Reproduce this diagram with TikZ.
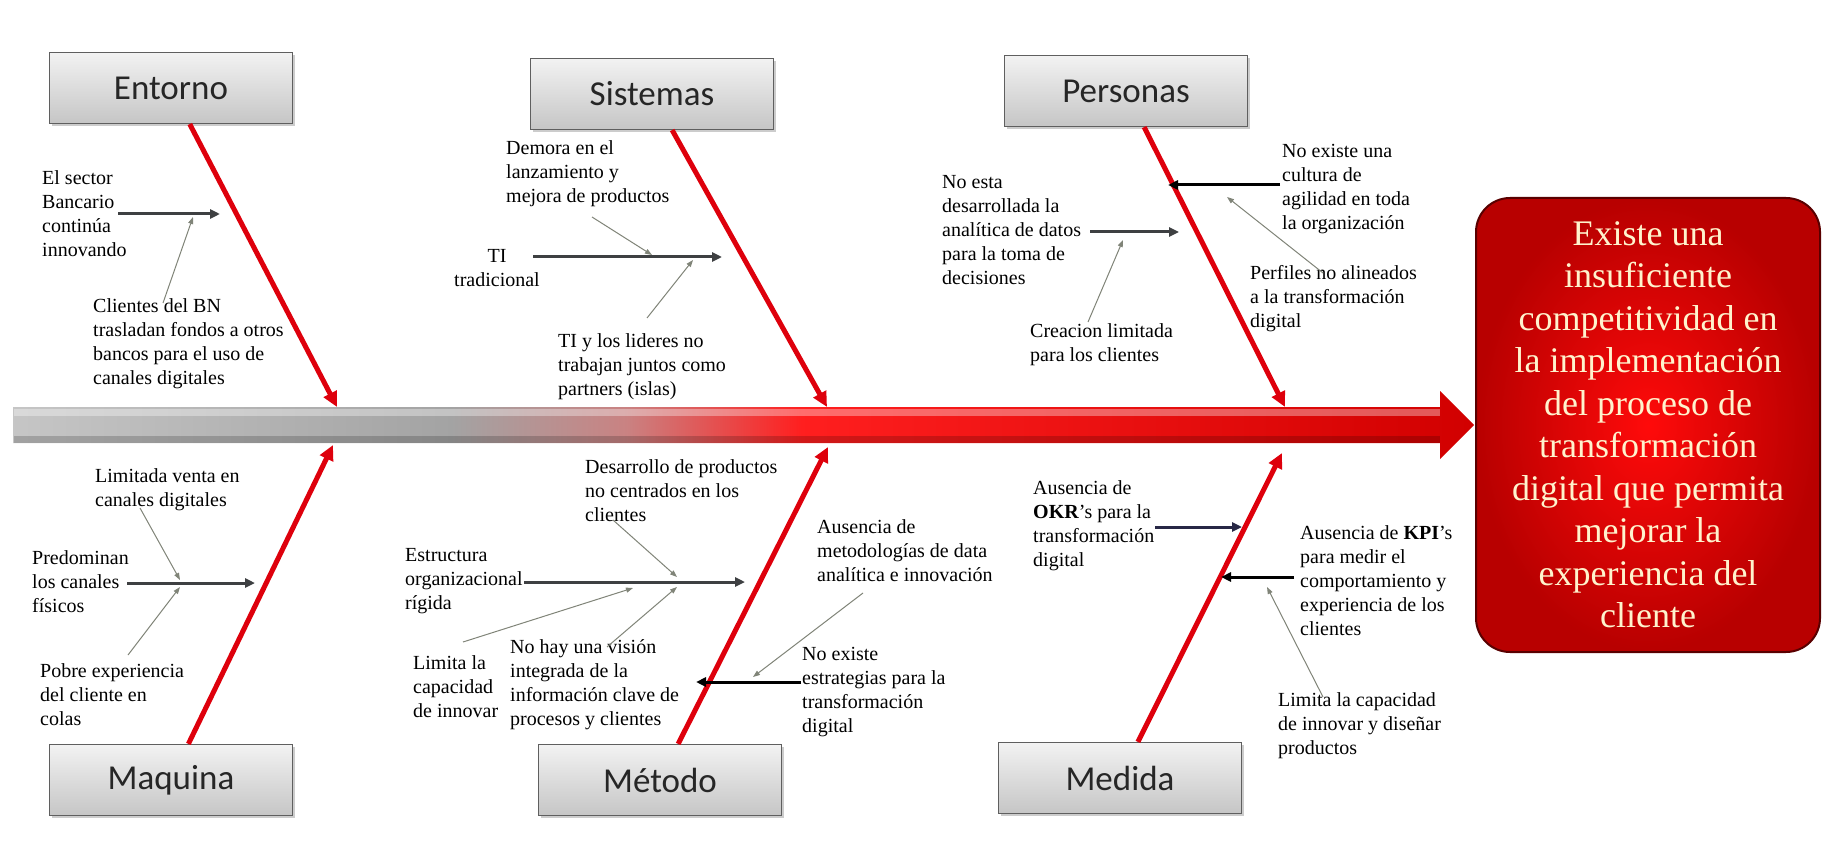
\documentclass[tikz,border=0pt]{standalone}
\usepackage{fontspec}
\setmainfont{Liberation Serif}
\newfontfamily\boxfont{Carlito}
\usepackage{xcolor}
\usetikzlibrary{arrows.meta, positioning, calc, shadows}

\definecolor{bonered}{RGB}{222,0,12}
\definecolor{armgray}{RGB}{62,64,66}
\definecolor{armnavy}{RGB}{40,40,70}
\definecolor{pingray}{RGB}{128,132,120}
\definecolor{catedge}{RGB}{95,95,95}
\definecolor{efftext}{RGB}{255,243,205}

\pgfdeclarehorizontalshading{spinegrad}{100bp}{color(0bp)=(gray!45); color(25bp)=(gray!45); color(40bp)=(gray!72); color(46bp)=(red!40!gray!70); color(52bp)=(red!88); color(75bp)=(red!82!black); color(100bp)=(red!82!black)}

\begin{document}
\begin{tikzpicture}[
  x=1pt, y=-1pt,
  category/.style={
    rectangle,
    draw=catedge,
    line width=1.2pt,
    top color=gray!10,
    bottom color=gray!45,
    minimum width=243pt,
    minimum height=71pt,
    text=black!85,
    font=\boxfont\fontsize{35}{40}\selectfont,
    drop shadow={shadow xshift=2.5pt, shadow yshift=-2.5pt, opacity=0.4},
  },
  cause/.style={
    align=left,
    inner sep=0pt,
    anchor=west,
    font=\fontsize{20}{24}\selectfont,
  },
  effect/.style={
    rectangle,
    rounded corners=34pt,
    draw=red!35!black,
    line width=2pt,
    inner color=red!96,
    outer color=red!72!black,
    minimum width=344pt,
    minimum height=454pt,
    align=center,
    text=efftext,
    font=\fontsize{36}{42.5}\selectfont,
  },
  bone/.style={draw=bonered, line width=5pt, -{Triangle[length=15pt, width=14pt]}},
  arm/.style={draw=armgray, line width=3pt, -{Triangle[length=10pt, width=9pt]}},
  pin/.style={draw=pingray, line width=1pt, -{Triangle[length=7pt, width=5pt]}}
]

% ===== CANVAS =====
\fill[white] (0,0) rectangle (1822,850);
\useasboundingbox (0,0) rectangle (1822,850);

% ===== SPINE AND EFFECT =====
\shade[shading=spinegrad] (13,407) -- (1440,407) -- (1440,391) -- (1474,425)
  -- (1440,459) -- (1440,443) -- (13,443) -- cycle;
\fill[white, opacity=0.35] (14,409) rectangle (1440,416);
\fill[black, opacity=0.18] (14,436) rectangle (1440,443);

\node[effect] (eff) at (1648,425) {Existe una\\insuficiente\\competitividad en\\la implementación\\del proceso de\\transformación\\digital que permita\\mejorar la\\experiencia del\\cliente};

% ===== CATEGORY BOXES =====
\node[category] (ent) at (171,88) {Entorno};
\node[category] (sis) at (652,94) {Sistemas};
\node[category] (per) at (1126,91) {Personas};
\node[category] (maq) at (171,780) {Maquina};
\node[category] (met) at (660,780) {Método};
\node[category] (med) at (1120,778) {Medida};

% Points where the bones meet the spine
\coordinate (tEnt) at (337,407);
\coordinate (tSis) at (827,407);
\coordinate (tPer) at (1285,407);
\coordinate (tMaq) at (333,445);
\coordinate (tMet) at (828,447);
\coordinate (tMed) at (1282,453);

% ===== BONES =====
\draw[bone] (ent) -- (tEnt);
\draw[bone] (sis) -- (tSis);
\draw[bone] (per) -- (tPer);
\draw[bone] (maq) -- (tMaq);
\draw[bone] (met) -- (tMet);
\draw[bone] (med) -- (tMed);

% ===== ENTORNO =====
\node[cause] (e1) at (42,214) {El sector\\Bancario\\continúa\\innovando};
\node[cause] (e2) at (93,344) {Clientes del BN\\trasladan fondos a otros\\bancos para el uso de\\canales digitales};
\coordinate (e1a) at (118,214);
\coordinate (e1b) at (220,214);
\coordinate (e2a) at (163,303);
\coordinate (e2b) at (193,217);
\draw[arm] (e1a) -- (e1b);
\draw[pin] (e2a) -- (e2b);

% ===== SISTEMAS =====
\node[cause] (s1) at (506,174) {Demora en el\\lanzamiento y\\mejora de productos};
\node[cause, align=center, anchor=center] (s2) at (497,268) {TI\\tradicional};
\node[cause] (s3) at (558,367) {TI y los lideres no\\trabajan juntos como\\partners (islas)};
\coordinate (s2a) at (533,257);
\coordinate (s2b) at (722,257);
\coordinate (s1a) at (592,217);
\coordinate (s1b) at (652,255);
\coordinate (s3a) at (647,318);
\coordinate (s3b) at (693,260);
\draw[arm] (s2a) -- (s2b);
\draw[pin] (s1a) -- (s1b);
\draw[pin] (s3a) -- (s3b);

% ===== PERSONAS =====
\node[cause] (p1) at (942,230) {No esta\\desarrollada la\\analítica de datos\\para la toma de\\decisiones};
\node[cause] (p2) at (1030,345) {Creacion limitada\\para los clientes};
\node[cause] (p3) at (1282,189) {No existe una\\cultura de\\agilidad en toda\\la organización};
\node[cause] (p4) at (1250,299) {Perfiles no alineados\\a la transformación\\digital};
\coordinate (p1a) at (1090,232);
\coordinate (p1b) at (1179,232);
\coordinate (p3a) at (1280,185);
\coordinate (p3b) at (1168,185);
\coordinate (p2a) at (1088,322);
\coordinate (p2b) at (1123,240);
\coordinate (p4a) at (1323,273);
\coordinate (p4b) at (1227,197);
\draw[arm] (p1a) -- (p1b);
\draw[arm, draw=black] (p3a) -- (p3b);
\draw[pin] (p2a) -- (p2b);
\draw[pin] (p4a) -- (p4b);

% ===== MAQUINA =====
\node[cause] (m1) at (95,490) {Limitada venta en\\canales digitales};
\node[cause] (m2) at (32,582) {Predominan\\los canales\\físicos};
\node[cause] (m3) at (40,695) {Pobre experiencia\\del cliente en\\colas};
\coordinate (m2a) at (127,583);
\coordinate (m2b) at (255,583);
\coordinate (m1a) at (140,508);
\coordinate (m1b) at (180,580);
\coordinate (m3a) at (128,655);
\coordinate (m3b) at (180,587);
\draw[arm] (m2a) -- (m2b);
\draw[pin] (m1a) -- (m1b);
\draw[pin] (m3a) -- (m3b);

% ===== METODO =====
\node[cause] (d1) at (405,581) {Estructura\\organizacional\\rígida};
\node[cause] (d2) at (585,491) {Desarrollo de productos\\no centrados en los\\clientes};
\node[cause] (d3) at (413,687) {Limita la\\capacidad\\de innovar};
\node[cause] (d4) at (510,685) {No hay una visión\\integrada de la\\información clave de\\procesos y clientes};
\node[cause] (d5) at (817,551) {Ausencia de\\metodologías de data\\analítica e innovación};
\node[cause] (d6) at (802,692) {No existe\\estrategias para la\\transformación\\digital};
\coordinate (d1a) at (524,582);
\coordinate (d1b) at (745,582);
\coordinate (d6a) at (801,682);
\coordinate (d6b) at (696,682);
\coordinate (d2a) at (613,520);
\coordinate (d2b) at (677,577);
\coordinate (d3a) at (463,642);
\coordinate (d3b) at (633,588);
\coordinate (d4a) at (607,647);
\coordinate (d4b) at (677,587);
\coordinate (d5a) at (863,593);
\coordinate (d5b) at (753,677);
\draw[arm] (d1a) -- (d1b);
\draw[arm, draw=black] (d6a) -- (d6b);
\draw[pin] (d2a) -- (d2b);
\draw[pin] (d3a) -- (d3b);
\draw[pin] (d4a) -- (d4b);
\draw[pin] (d5a) -- (d5b);

% ===== MEDIDA =====
\node[cause] (k1) at (1033,526) {Ausencia de\\\textbf{OKR}'s para la\\transformación\\digital};
\node[cause] (k2) at (1300,581) {Ausencia de \textbf{KPI}'s\\para medir el\\comportamiento y\\experiencia de los\\clientes};
\node[cause] (k3) at (1278,726) {Limita la capacidad\\de innovar y diseñar\\productos};
\coordinate (k1a) at (1155,527);
\coordinate (k1b) at (1242,527);
\coordinate (k2a) at (1294,577);
\coordinate (k2b) at (1221,577);
\coordinate (k3a) at (1323,697);
\coordinate (k3b) at (1267,587);
\draw[arm, draw=armnavy] (k1a) -- (k1b);
\draw[arm, draw=black] (k2a) -- (k2b);
\draw[pin] (k3a) -- (k3b);

\end{tikzpicture}
\end{document}
